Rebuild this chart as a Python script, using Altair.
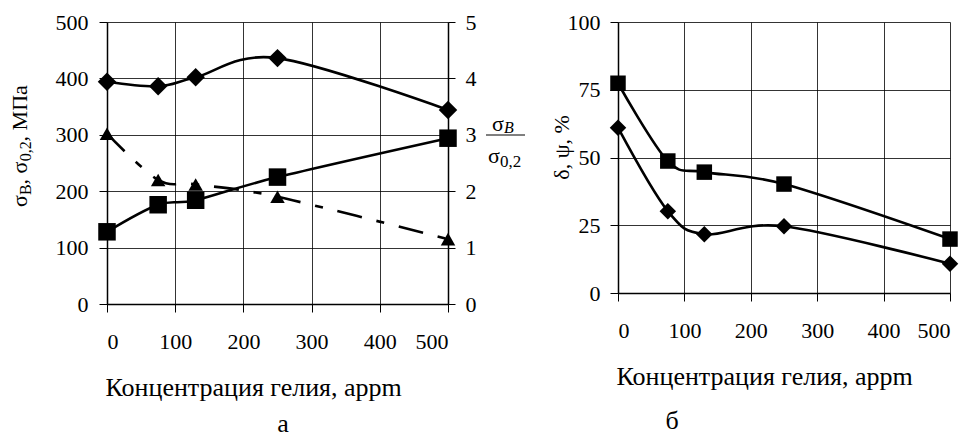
import altair as alt
import pandas as pd

# ---------------- data ----------------
conc = [0, 75, 130, 250, 500]
sigma_b = [394, 386, 402, 436, 344]      # σB, MPa (diamonds)
sigma_02 = [128, 176, 184, 225, 294]     # σ0,2, MPa (squares)
ratio = [3.02, 2.2, 2.12, 1.9, 1.15]     # σB/σ0,2 (triangles, right axis)
delta = [61.0, 30.2, 21.7, 24.6, 10.8]   # δ, % (diamonds)
psi = [77.4, 48.7, 44.6, 40.2, 19.9]     # ψ, % (squares)

x_ticks = [0, 100, 200, 300, 400, 500]
left_ticks = [0, 100, 200, 300, 400, 500]
ratio_ticks = [0, 1, 2, 3, 4, 5]
pct_ticks = [0, 25, 50, 75, 100]

x_title = "Концентрация гелия, appm"
pct_title = "δ, ψ, %"

FONT = "'Liberation Serif', 'Times New Roman', 'DejaVu Serif', serif"
W1, H1 = 341, 282
W2, H2 = 332, 271

df_left = pd.DataFrame({"c": conc, "sb": sigma_b, "s02": sigma_02, "r": ratio})
df_right = pd.DataFrame({"c": conc, "d": delta, "p": psi})
one = alt.Data(values=[{}])


def x_enc(title_y):
    return alt.X(
        "c:Q",
        scale=alt.Scale(domain=[0, 500], nice=False, zero=False),
        axis=alt.Axis(
            values=x_ticks, title=x_title, grid=True, tickSize=8,
            labelPadding=36, labelBaseline="alphabetic",
            titleX=-2, titleY=title_y, titleAlign="left", titleAnchor="start",
            titleBaseline="alphabetic", titleFontSize=26, titleFontWeight="normal",
        ),
    )


def txt(text, x, y, size, angle=0, align="left", italic=False):
    return alt.Chart(one).mark_text(
        text=text, font=FONT, fontSize=size, align=align, baseline="alphabetic",
        angle=angle, color="black", fontStyle="italic" if italic else "normal",
    ).encode(x=alt.value(x), y=alt.value(y))


# ---------------- left panel ----------------
base_l = alt.Chart(df_left)
xl = x_enc(91)
strength = base_l.transform_fold(["sb", "s02"], as_=["key", "val"])
yl = alt.Y(
    "val:Q", scale=alt.Scale(domain=[0, 500], nice=False),
    axis=alt.Axis(values=left_ticks, title=None, grid=True, tickSize=8, labelPadding=11),
)
line_s = strength.mark_line(interpolate="cardinal", color="black", strokeWidth=2.6).encode(
    x=xl, y=yl, detail="key:N")
pts_s = strength.mark_point(filled=True, color="black", opacity=1).encode(
    x=xl, y=yl,
    shape=alt.Shape("key:N", scale=alt.Scale(domain=["sb", "s02"], range=["diamond", "square"]), legend=None),
    size=alt.Size("key:N", scale=alt.Scale(domain=["sb", "s02"], range=[340, 240]), legend=None),
)
main_l = alt.layer(line_s, pts_s)

yr = alt.Y(
    "r:Q", scale=alt.Scale(domain=[0, 5], nice=False),
    axis=alt.Axis(values=ratio_ticks, title=None, orient="right", grid=False, tickSize=7, labelPadding=10),
)
line_r = base_l.mark_line(interpolate="cardinal", color="black", strokeWidth=2.6,
                          strokeDash=[25, 15, 8, 15]).encode(x=xl, y=yr)
pts_r = base_l.mark_point(shape="triangle-up", filled=True, color="black", opacity=1, size=210).encode(x=xl, y=yr)
ratio_l = alt.layer(line_r, pts_r)

# left y title with subscripts (rotated pieces)
ytitle = [
    txt("σ", -80, 185, 22, angle=270),
    txt("В", -76, 172.9, 16, angle=270),
    txt(", σ", -80, 162.4, 22, angle=270),
    txt("0,2", -76, 139.2, 16, angle=270),
    txt(", МПа", -80, 119.4, 22, angle=270),
]
# fraction σB / σ0,2 right of the right axis
frac = [
    txt("σ", 385, 109, 22),
    txt("B", 397, 111, 16, italic=True),
    alt.Chart(one).mark_rule(color="black", strokeWidth=1).encode(
        x=alt.value(379), x2=alt.value(418), y=alt.value(113)),
    txt("σ", 381, 141, 22),
    txt("0,2", 393, 145, 17),
]
lab_a = txt("а", 176, 410, 26, align="center")

left = alt.layer(main_l, ratio_l, *ytitle, *frac, lab_a).resolve_scale(y="independent").properties(
    width=W1, height=H1)

# ---------------- right panel ----------------
base_r = alt.Chart(df_right)
xr = x_enc(91)
ductility = base_r.transform_fold(["d", "p"], as_=["key", "val"])
yp = alt.Y(
    "val:Q", scale=alt.Scale(domain=[0, 100], nice=False),
    axis=alt.Axis(values=pct_ticks, title=pct_title, grid=True, tickSize=8, labelPadding=10,
                  titleX=-50, titleY=125, titleAngle=270, titleAlign="center",
                  titleBaseline="alphabetic", titleFontSize=22, titleFontWeight="normal"),
)
line_d = ductility.mark_line(interpolate="cardinal", color="black", strokeWidth=2.6).encode(
    x=xr, y=yp, detail="key:N")
pts_d = ductility.mark_point(filled=True, color="black", opacity=1).encode(
    x=xr, y=yp,
    shape=alt.Shape("key:N", scale=alt.Scale(domain=["d", "p"], range=["diamond", "square"]), legend=None),
    size=alt.Size("key:N", scale=alt.Scale(domain=["d", "p"], range=[340, 240]), legend=None),
)
lab_b = txt("б", 54, 407, 26, align="center")
# invisible spacer so this panel sits 3px lower than the left one
spacer = alt.Chart(one).mark_rule(opacity=0).encode(
    x=alt.value(0), y=alt.value(-14), y2=alt.value(-13))
right = alt.layer(line_d, pts_d, lab_b, spacer).properties(width=W2, height=H2)

chart = alt.hconcat(left, right, spacing=24).configure_view(stroke=None).configure_axis(
    labelFont=FONT, labelFontSize=22, labelColor="black",
    titleFont=FONT, titleColor="black",
    domainColor="black", domainWidth=1.5, tickColor="black", tickWidth=1,
    gridColor="black", gridOpacity=1, gridWidth=0.8,
).properties(background="white", padding={"left": 0, "top": 0, "right": 0, "bottom": 0})

chart.save("out.html", embed_options={"renderer": "svg", "actions": False})
